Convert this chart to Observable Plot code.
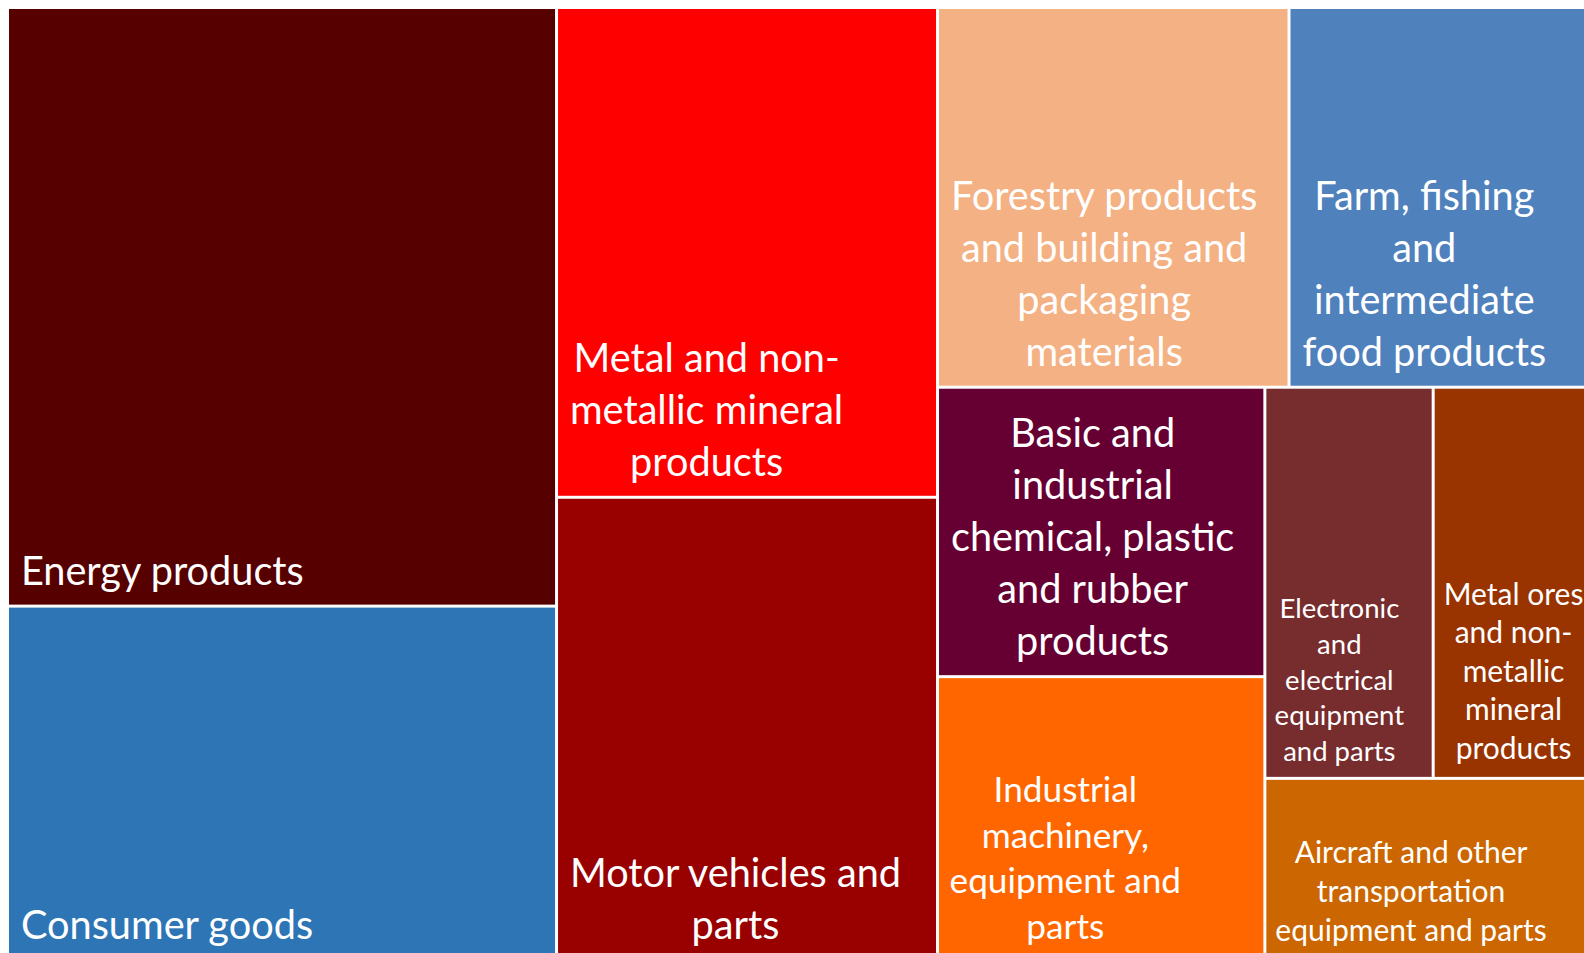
<!DOCTYPE html>
<html>
<head>
<meta charset="utf-8">
<script src="https://cdn.jsdelivr.net/npm/d3@7"></script>
<script src="https://cdn.jsdelivr.net/npm/@observablehq/plot@0.6"></script>
<style>
  html, body { margin: 0; padding: 0; background: #fff; overflow: hidden; }
  #chart svg { display: block; }
</style>
</head>
<body>
<div id="chart"></div>
<script>
// ---- data ----
const categories = [
  "Energy products",
  "Consumer goods",
  "Metal and non-metallic mineral products",
  "Motor vehicles and parts",
  "Forestry products and building and packaging materials",
  "Farm, fishing and intermediate food products",
  "Basic and industrial chemical, plastic and rubber products",
  "Industrial machinery, equipment and parts",
  "Electronic and electrical equipment and parts",
  "Metal ores and non-metallic mineral products",
  "Aircraft and other transportation equipment and parts"
];
const labels = [
  "Energy products",
  "Consumer goods",
  "Metal and non-\nmetallic mineral\nproducts",
  "Motor vehicles and\nparts",
  "Forestry products\nand building and\npackaging\nmaterials",
  "Farm, fishing\nand\nintermediate\nfood products",
  "Basic and\nindustrial\nchemical, plastic\nand rubber\nproducts",
  "Industrial\nmachinery,\nequipment and\nparts",
  "Electronic\nand\nelectrical\nequipment\nand parts",
  "Metal ores\nand non-\nmetallic\nmineral\nproducts",
  "Aircraft and other\ntransportation\nequipment and parts"
];
const values = [32.85, 19.42, 18.65, 17.62, 13.34, 11.48, 9.47, 9.27, 6.58, 6.19, 5.93];

// nesting of the treemap: "x" = side by side, "y" = stacked; numbers index the categories
const tiling = ["x", ["y", 0, 1], ["y", 2, 3], ["y", ["x", 4, 5], ["x", ["y", 6, 7], ["y", ["x", 8, 9], 10]]]];

// ---- styles ----
const palette = ["#560000", "#2E75B6", "#FF0000", "#990000", "#F4B183", "#4F81BD",
                 "#660033", "#FF6600", "#772C2D", "#993300", "#CC6600"];
const labelClass = new Map([
  ["Industrial machinery, equipment and parts", "medium"],
  ["Metal ores and non-metallic mineral products", "small"],
  ["Aircraft and other transportation equipment and parts", "small"],
  ["Electronic and electrical equipment and parts", "xsmall"]
]);
const fontSizes = {large: 39.7, medium: 35.2, small: 30, xsmall: 27.5};
const lineHeights = {large: 1.31, medium: 1.29, small: 1.285, xsmall: 1.295};
const bottomPad = {large: 22, medium: 22, small: 20, xsmall: 18};

// ---- layout ----
const root = d3.hierarchy(tiling, d => Array.isArray(d) ? d.slice(1) : null)
  .sum(d => Array.isArray(d) ? 0 : values[d]);
d3.treemap()
  .size([1, 1])
  .round(false)
  .tile((node, x0, y0, x1, y1) =>
    (node.data[0] === "x" ? d3.treemapDice : d3.treemapSlice)(node, x0, y0, x1, y1))(root);

const cells = root.leaves().map(n => {
  const c = categories[n.data];
  return {
    category: c,
    label: labels[n.data],
    value: values[n.data],
    x0: n.x0, x1: n.x1, y0: n.y0, y1: n.y1,
    size: labelClass.get(c) || "large"
  };
});

const plot = Plot.plot({
  width: 1584,
  height: 953,
  margin: 0,
  style: {fontFamily: "Lato, 'Open Sans', sans-serif", background: "white"},
  x: {domain: [0, 1], range: [7.5, 1591.5], axis: null},
  y: {domain: [0, 1], range: [7.5, 960], axis: null},
  color: {domain: categories, range: palette},
  marks: [
    Plot.rect(cells, {x1: "x0", x2: "x1", y1: "y0", y2: "y1", fill: "category", inset: 1.5}),
    ...["large", "medium", "small", "xsmall"].map(s =>
      Plot.text(cells.filter(d => d.size === s), {
        x: "x0", y: "y1", text: "label",
        fill: "white", fontSize: fontSizes[s], lineHeight: lineHeights[s],
        textAnchor: "middle", lineAnchor: "bottom", dy: -bottomPad[s]
      }))
  ]
});
document.getElementById("chart").appendChild(plot);

// left-align each label block inside its cell (lines stay centred within the block)
function alignLabels() {
  plot.querySelectorAll('g[aria-label="text"]').forEach(g => {
    const fs = parseFloat(g.getAttribute("font-size")) || 30;
    const pad = 0.3 * fs + 1;
    g.querySelectorAll("text").forEach(t => {
      const m = t.transform.baseVal.consolidate();
      if (!m) return;
      const tx = m.matrix.e, ty = m.matrix.f;
      const bb = t.getBBox();
      t.setAttribute("transform", `translate(${tx + pad - bb.x},${ty})`);
    });
  });
}
if (document.fonts && document.fonts.ready) document.fonts.ready.then(alignLabels);
else alignLabels();
</script>
</body>
</html>
